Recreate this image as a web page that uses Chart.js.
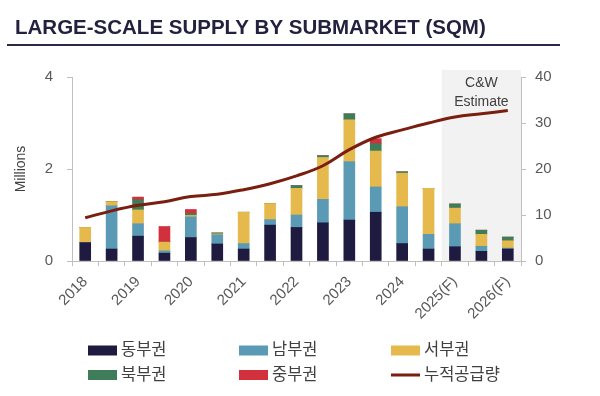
<!DOCTYPE html>
<html>
<head>
<meta charset="utf-8">
<script src="https://cdn.jsdelivr.net/npm/chart.js@4"></script>
<style>
	html, body { margin: 0; padding: 0; background: #fff; }
	#wrap { position: relative; width: 600px; height: 396px; }
</style>
</head>
<body>
<div id="wrap"><canvas id="cnv_supply"></canvas></div>
<script>
// half-year periods, year label on the first half only
const periods = ['2018', '', '2019', '', '2020', '', '2021', '', '2022', '', '2023', '', '2024', '', '2025(F)', '', '2026(F)'];

// supply by submarket, millions sqm
const eastSupply = [0.40, 0.26, 0.54, 0.17, 0.51, 0.37, 0.26, 0.78, 0.73, 0.83, 0.89, 1.06, 0.38, 0.26, 0.31, 0.21, 0.26];
const southSupply = [0, 0.94, 0.27, 0.05, 0.45, 0.20, 0.12, 0.12, 0.27, 0.51, 1.27, 0.55, 0.80, 0.32, 0.50, 0.11, 0.02];
const westSupply = [0.33, 0.09, 0.30, 0.19, 0.03, 0.02, 0.68, 0.35, 0.58, 0.91, 0.91, 0.78, 0.73, 1.00, 0.34, 0.26, 0.16];
const northSupply = [0, 0, 0.22, 0, 0.04, 0.02, 0, 0, 0.06, 0.04, 0.13, 0.16, 0.03, 0, 0.09, 0.09, 0.08];
const centralSupply = [0, 0, 0.06, 0.34, 0.09, 0, 0, 0, 0, 0, 0, 0.11, 0, 0, 0, 0, 0];
// cumulative supply (right axis)
const cumulativeSupply = [9.4, 10.9, 12.1, 12.9, 14.0, 14.5, 15.5, 16.8, 18.5, 20.7, 24.2, 26.9, 28.5, 30.0, 31.3, 32.0, 32.7];

const leftTicks = [0, 2, 4];
const rightTicks = [0, 10, 20, 30, 40];
const estimateStart = 14; // first index inside the C&W estimate box

const FONT = "'Liberation Sans', 'Noto Sans CJK KR', Arial, sans-serif";
const axisColor = '#BFBFBF';
const tickColor = '#595959';

Chart.defaults.font.family = FONT;
Chart.defaults.animation = false;

const barSet = (label, data, color) => ({
	type: 'bar', label, data,
	backgroundColor: color, borderWidth: 0,
	barThickness: 11, stack: 's', yAxisID: 'y', order: 2
});

const datasets = [
	barSet('동부권', eastSupply, '#1E1A40'),
	barSet('남부권', southSupply, '#5A9AB4'),
	barSet('서부권', westSupply, '#E6B94C'),
	barSet('북부권', northSupply, '#3E7C5A'),
	barSet('중부권', centralSupply, '#D1303C'),
	{
		type: 'line', label: '누적공급량', data: cumulativeSupply,
		borderColor: '#7A1E10', backgroundColor: '#7A1E10',
		borderWidth: 3, pointRadius: 0, tension: 0.4,
		yAxisID: 'y1', order: 1
	}
];

//Shaded estimate box behind the bars
const estimateBox = {
	id: 'estimateBox',
	beforeDraw(chart) {
		const { ctx, chartArea, scales: { x } } = chart;
		const x0 = (x.getPixelForValue(estimateStart - 1) + x.getPixelForValue(estimateStart)) / 2;
		ctx.save();
		ctx.fillStyle = '#F2F2F2';
		ctx.fillRect(x0, chartArea.top - 7, chartArea.right - x0, chartArea.bottom - chartArea.top + 7);
		ctx.fillStyle = '#404040';
		ctx.font = `14px ${FONT}`;
		ctx.textAlign = 'center';
		ctx.textBaseline = 'middle';
		const cx = (x0 + chartArea.right) / 2;
		ctx.fillText('C&W', cx, chartArea.top + 6);
		ctx.fillText('Estimate', cx, chartArea.top + 25);
		ctx.restore();
	}
};

//Title, underline and a two-row legend
const decorations = {
	id: 'decorations',
	afterDraw(chart) {
		const { ctx } = chart;
		ctx.save();
		ctx.fillStyle = '#24213F';
		ctx.font = `bold 20.5px ${FONT}`;
		ctx.textBaseline = 'alphabetic';
		ctx.fillText('LARGE-SCALE SUPPLY BY SUBMARKET (SQM)', 15, 34);
		ctx.fillStyle = '#2B2A4A';
		ctx.fillRect(7, 44, 553, 2);

		const cols = [88, 239, 391];
		const rows = [350.5, 375];
		ctx.font = `16.5px ${FONT}`;
		ctx.textBaseline = 'middle';
		chart.data.datasets.forEach((ds, i) => {
			const lx = cols[i % 3];
			const ly = rows[Math.floor(i / 3)];
			ctx.fillStyle = ds.backgroundColor;
			if (ds.type === 'line') ctx.fillRect(lx, ly - 1.5, 29, 3);
			else ctx.fillRect(lx, ly - 5, 29, 10);
			ctx.fillStyle = '#404040';
			ctx.fillText(ds.label, lx + 33, ly);
		});
		ctx.restore();
	}
};

const ctx = document.getElementById('cnv_supply').getContext('2d');
const supplyChart = new Chart(ctx, {
	data: { labels: periods, datasets },
	plugins: [estimateBox, decorations],
	options: {
		responsive: true,
		maintainAspectRatio: false,
		layout: { padding: { top: 77, left: 0, right: 0, bottom: 0 } },
		plugins: { legend: { display: false }, tooltip: { enabled: false } },
		scales: {
			x: {
				stacked: true,
				grid: { offset: true, drawOnChartArea: false, tickLength: 5, color: axisColor },
				border: { color: axisColor },
				ticks: {
					autoSkip: false, maxRotation: 45, minRotation: 45,
					color: tickColor, font: { size: 15 }, padding: 7,
					callback: (v, i) => periods[i]
				},
				afterFit: s => { s.height = 135; }
			},
			y: {
				stacked: true, position: 'left', min: 0, max: 4,
				afterBuildTicks: s => { s.ticks = leftTicks.map(value => ({ value })); },
				ticks: { color: tickColor, font: { size: 15 }, padding: 14 },
				grid: { drawOnChartArea: false, tickLength: 5, color: axisColor },
				border: { color: axisColor },
				title: { display: true, text: 'Millions', color: '#404040', font: { size: 14 }, padding: { top: 13, bottom: 0 } },
				afterFit: s => { s.width = 72; }
			},
			y1: {
				position: 'right', min: 0, max: 40,
				afterBuildTicks: s => { s.ticks = rightTicks.map(value => ({ value })); },
				ticks: { color: tickColor, font: { size: 15 }, padding: 9 },
				grid: { drawOnChartArea: false, tickLength: 5, color: axisColor },
				border: { color: axisColor },
				afterFit: s => { s.width = 79; }
			}
		}
	}
});
</script>
</body>
</html>
